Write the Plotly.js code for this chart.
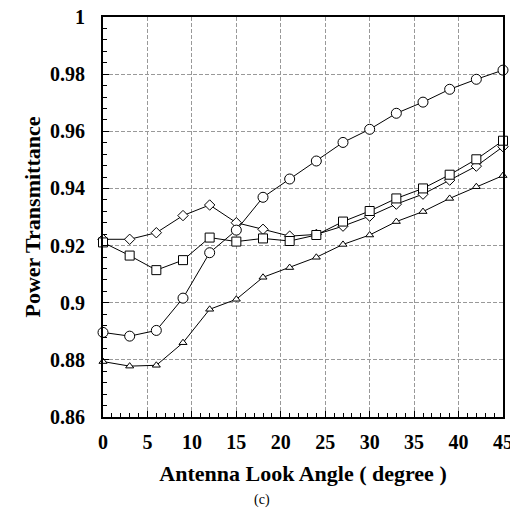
<!DOCTYPE html>
<html>
<head>
<meta charset="utf-8">
<script src="https://cdn.plot.ly/plotly-3.0.1.min.js"></script>
<style>html,body{margin:0;padding:0;background:#fff;}#chart{width:510px;height:509px;}</style>
</head>
<body>
<div id="chart"></div>
<script>
var angles = [0, 3, 6, 9, 12, 15, 18, 21, 24, 27, 30, 33, 36, 39, 42, 45];
var circleSeries  = [0.8896, 0.8883, 0.8903, 0.9016, 0.9175, 0.9254, 0.9369, 0.9433, 0.9496, 0.9561, 0.9607, 0.9663, 0.9702, 0.9747, 0.9782, 0.9814];
var squareSeries  = [0.9211, 0.9165, 0.9114, 0.9149, 0.9228, 0.9214, 0.9225, 0.9216, 0.9237, 0.9284, 0.9321, 0.9365, 0.9400, 0.9448, 0.9502, 0.9567];
var diamondSeries = [0.9222, 0.9222, 0.9245, 0.9305, 0.9342, 0.9280, 0.9257, 0.9233, 0.9239, 0.9268, 0.9303, 0.9345, 0.9380, 0.9429, 0.9478, 0.9546];
var triangleSeries= [0.8794, 0.8778, 0.8781, 0.8860, 0.8977, 0.9012, 0.9089, 0.9123, 0.9159, 0.9204, 0.9237, 0.9284, 0.9319, 0.9365, 0.9406, 0.9445];
var xTicks = [0, 5, 10, 15, 20, 25, 30, 35, 40, 45];
var yTicks = [0.86, 0.88, 0.9, 0.92, 0.94, 0.96, 0.98, 1];
var yTickText = ['0.86', '0.88', '0.9', '0.92', '0.94', '0.96', '0.98', '1'];

function mk(y, sym, size) {
  return {
    x: angles, y: y, type: 'scatter', mode: 'lines+markers',
    line: {color: '#000', width: 1},
    marker: {symbol: sym, size: size, color: '#fff', line: {color: '#000', width: 1}},
    showlegend: false, cliponaxis: false
  };
}
var data = [
  mk(triangleSeries, 'triangle-up', 7),
  mk(diamondSeries, 'diamond', 8),
  mk(squareSeries, 'square', 9),
  mk(circleSeries, 'circle', 10)
];
var serif = 'Liberation Serif';
var layout = {
  width: 510, height: 509,
  margin: {l: 103, r: 7, t: 17, b: 92},
  paper_bgcolor: '#fff', plot_bgcolor: '#fff',
  font: {family: serif, color: '#000'},
  xaxis: {
    range: [0, 45], tickvals: xTicks, ticktext: xTicks.map(String),
    showgrid: true, gridcolor: '#999', griddash: '4px,2px', gridwidth: 1,
    zeroline: false, showline: true, linecolor: '#000', linewidth: 2, mirror: true,
    ticks: 'inside', ticklen: 6, tickcolor: '#000',
    minor: {dtick: 1, ticks: 'inside', ticklen: 4, tickcolor: '#000', showgrid: false},
    tickfont: {family: serif, size: 20, color: '#000', weight: 'bold'},
    ticklabelstandoff: 6, ticklabeloverflow: 'allow',
    title: {text: '<b>Antenna Look Angle ( degree )</b>', font: {family: serif, size: 22, color: '#000'}, standoff: 14}
  },
  yaxis: {
    range: [0.86, 1], tickvals: yTicks, ticktext: yTickText,
    showgrid: true, gridcolor: '#999', griddash: '4px,2px', gridwidth: 1,
    zeroline: false, showline: true, linecolor: '#000', linewidth: 2, mirror: true,
    ticks: 'inside', ticklen: 6, tickcolor: '#000',
    minor: {dtick: 0.004, tick0: 0.86, ticks: 'inside', ticklen: 4, tickcolor: '#000', showgrid: false},
    tickfont: {family: serif, size: 20, color: '#000', weight: 'bold'},
    ticklabelstandoff: 12, ticklabeloverflow: 'allow',
    title: {text: '<b>Power Transmittance</b>', font: {family: serif, size: 22, color: '#000'}, standoff: 3}
  },
  annotations: [{
    text: '(c)', xref: 'paper', yref: 'paper', x: 0.3975, y: -0.2075, yanchor: 'middle', xanchor: 'center',
    showarrow: false, font: {family: serif, size: 14, color: '#000'}
  }]
};
Plotly.newPlot('chart', data, layout, {displayModeBar: false, staticPlot: true});
</script>
</body>
</html>
